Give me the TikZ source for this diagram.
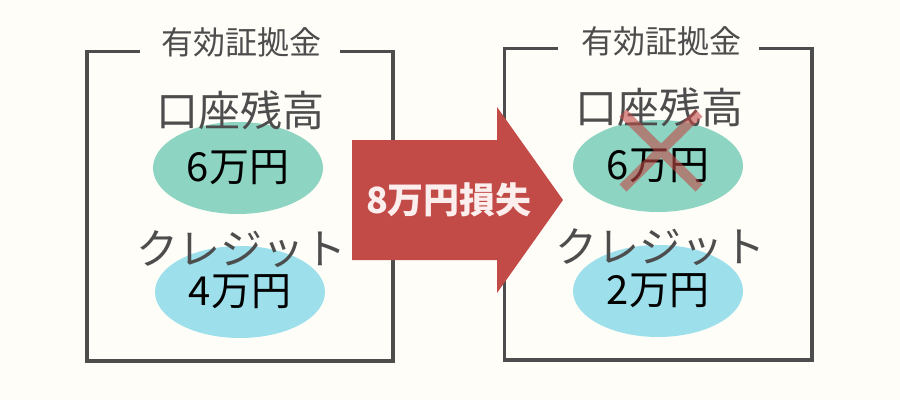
\documentclass[tikz,border=0pt]{standalone}
\usepackage{fontspec}
\setmainfont{Noto Sans CJK JP}
\usetikzlibrary{shapes.geometric}
\definecolor{bgcream}{HTML}{FFFDF8}
\definecolor{framegray}{HTML}{4D4D4D}
\definecolor{lossred}{HTML}{C24A47}
\definecolor{balgreen}{HTML}{8DD5C2}
\definecolor{credblue}{HTML}{9DE0EC}
\definecolor{losstext}{HTML}{FDEEEE}

\begin{document}
\begin{tikzpicture}[x=1pt,y=-1pt,
  frame/.style={framegray,line width=3.3pt},
  ttl/.style={inner sep=0,text=framegray,font=\fontsize{32}{32}\selectfont},
  lbl/.style={inner sep=0,text=framegray,font=\fontsize{42}{42}\selectfont},
  amt/.style={ellipse,inner sep=0,minimum width=170pt,minimum height=92pt,font=\fontsize{40}{40}\selectfont},
  xmark/.style={lossred,line width=10pt,opacity=0.6}]
\fill[bgcream] (0,0) rectangle (900,400);
\useasboundingbox (0,0) rectangle (900,400);
% before
\node[ttl] (ttlA) at (241,42) {有効証拠金};
\draw[frame] (140,51.5) -| (87,361) -| (393,51.5) -- (340,51.5);
\node[amt,fill=balgreen] (amtA) at (238,168) {6万円};
\node[amt,fill=credblue] (amtB) at (240,292) {4万円};
\node[lbl] (balA) at (240,110) {口座残高};
\node[lbl] (crdA) at (241,249) {クレジット};
% after
\node[ttl] (ttlB) at (661,41) {有効証拠金};
\draw[frame] (558,48.5) -| (504.5,360) -| (812,48.5) -- (759,48.5);
\node[amt,fill=balgreen] (amtC) at (658,166) {6万円};
\node[amt,fill=credblue] (amtD) at (658,291) {2万円};
\node[lbl] (balB) at (659,107) {口座残高};
\node[lbl] (crdB) at (660,247) {クレジット};
\draw[xmark] (623,113) -- (699,188) (699,113) -- (623,188);
% loss arrow
\fill[lossred] (352,140) -- (497,140) -- (497,107) -- (563,200)
  -- (497,293) -- (497,260) -- (352,260) -- cycle;
\node[inner sep=0,text=losstext,font=\bfseries\fontsize{36}{36}\selectfont] (loss) at (449,200) {8万円損失};
\end{tikzpicture}
\end{document}
